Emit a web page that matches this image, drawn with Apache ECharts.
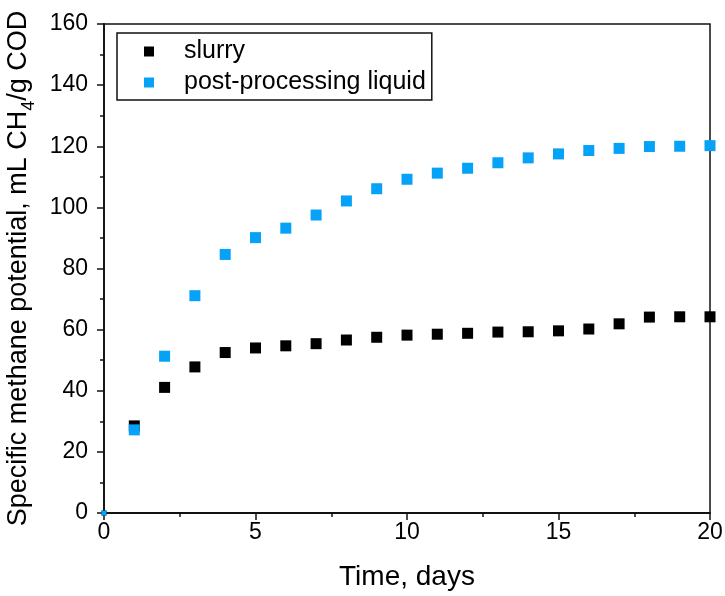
<!DOCTYPE html>
<html>
	<head>
		<meta charset="UTF-8">
		<title>Specific methane potential</title>
	</head>
<style type="text/css">
	body{margin: 0;padding: 0;background: #fff;}
	#chart{width: 725px;height: 596px;}
</style>
	<body>
		<div id="chart"></div>
		<script src="https://cdn.jsdelivr.net/npm/echarts@6/dist/echarts.min.js"></script>
		<script>
			// values
			let days = [0, 1, 2, 3, 4, 5, 6, 7, 8, 9, 10, 11, 12, 13, 14, 15, 16, 17, 18, 19, 20];
			let slurry = [0, 28.5, 41.1, 47.8, 52.5, 54.0, 54.7, 55.4, 56.6, 57.5, 58.2, 58.5, 58.8, 59.2, 59.3, 59.6, 60.2, 61.9, 64.1, 64.2, 64.2];
			let liquid = [0, 27.2, 51.3, 71.1, 84.6, 90.1, 93.2, 97.5, 102.1, 106.1, 109.2, 111.2, 112.8, 114.6, 116.2, 117.5, 118.6, 119.3, 119.9, 120.0, 120.2];
			let seriesNames = ['slurry', 'post-processing liquid'];

			function pairs(ys) {
				return days.map(function(d, i) { return [d, ys[i]]; });
			}

			let font = 'Liberation Sans, Arial, sans-serif';
			let chart = echarts.init(document.getElementById('chart'));
			chart.setOption({
				animation: false,
				grid: {
					left: 104, right: 15, top: 24, bottom: 83, outerBoundsMode: 'none',
					show: true, borderColor: '#111', borderWidth: 1.5
				},
				legend: {
					orient: 'vertical', left: 117, top: 33,
					padding: [5, 6, 4, 27], itemGap: 4,
					itemWidth: 10, itemHeight: 10, icon: 'rect',
					borderColor: '#111', borderWidth: 1.5,
					textStyle: {fontFamily: font, fontSize: 25, color: '#000', lineHeight: 27, padding: [0, 0, 0, 25]},
					data: seriesNames
				},
				xAxis: {
					type: 'value', min: 0, max: 20, interval: 5,
					name: 'Time, days', nameLocation: 'middle', nameGap: 50,
					nameTextStyle: {fontFamily: font, fontSize: 28, color: '#000'},
					axisLine: {onZero: false, lineStyle: {color: '#111', width: 1.8}},
					axisTick: {length: 7, lineStyle: {color: '#111', width: 1.5}},
					minorTick: {show: true, splitNumber: 2, length: 4, lineStyle: {color: '#111', width: 1.5}},
					axisLabel: {fontFamily: font, fontSize: 23, color: '#000', margin: 8},
					splitLine: {show: false}
				},
				yAxis: {
					type: 'value', min: 0, max: 160, interval: 20,
					name: 'Specific methane potential, mL CH{sub|4}/g COD', nameLocation: 'middle', nameGap: 72,
					nameTextStyle: {
						fontFamily: font, fontSize: 27, color: '#000',
						rich: {sub: {fontFamily: font, fontSize: 18, color: '#000', verticalAlign: 'bottom', padding: [0, 0, -6, 0]}}
					},
					axisLine: {onZero: false, lineStyle: {color: '#111', width: 1.8}},
					axisTick: {length: 7, lineStyle: {color: '#111', width: 1.5}},
					minorTick: {show: true, splitNumber: 2, length: 4, lineStyle: {color: '#111', width: 1.5}},
					axisLabel: {fontFamily: font, fontSize: 23, color: '#000', margin: 16},
					splitLine: {show: false}
				},
				series: [
					{
						name: seriesNames[0], type: 'scatter', symbol: 'rect',
						symbolSize: function(v) { return v[0] === 0 ? 5 : 11; },
						itemStyle: {color: '#000', opacity: 1},
						data: pairs(slurry)
					},
					{
						name: seriesNames[1], type: 'scatter', symbol: 'rect',
						symbolSize: function(v) { return v[0] === 0 ? 5 : 11; },
						itemStyle: {color: '#05a2f7', opacity: 1},
						data: pairs(liquid)
					}
				]
			});
		</script>
	</body>
</html>
